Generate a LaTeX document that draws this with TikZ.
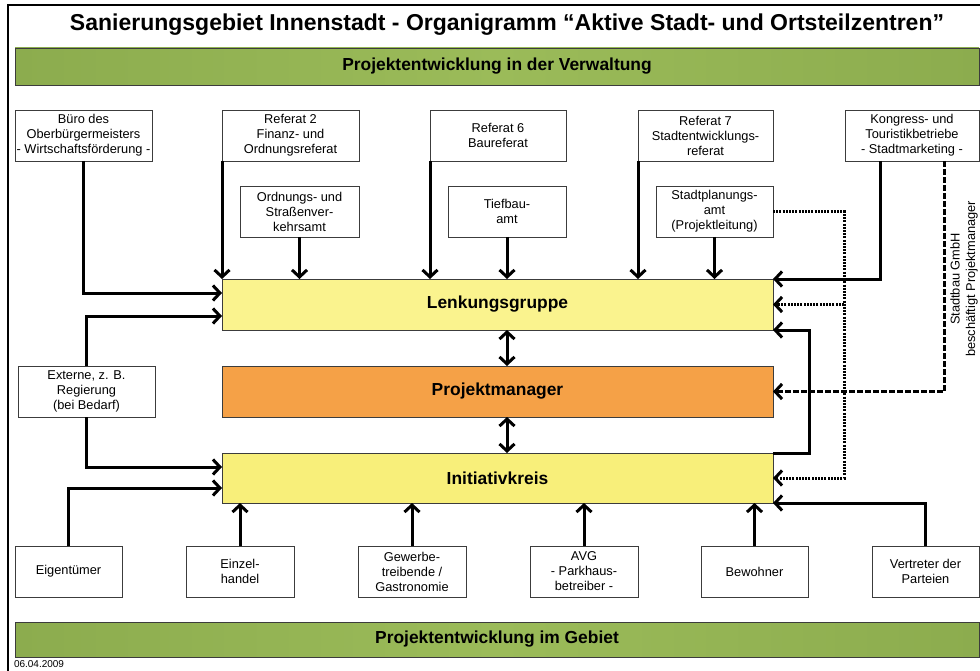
\documentclass[tikz,border=0pt]{standalone}
\usepackage{fontspec}
\setmainfont{Liberation Sans}
\usetikzlibrary{arrows.meta,calc}
\definecolor{barGreen}{RGB}{155,187,89}
\definecolor{barGreenD}{RGB}{140,172,78}
\definecolor{lenkYellow}{RGB}{250,243,142}
\definecolor{initYellow}{RGB}{248,239,122}
\definecolor{pmOrange}{RGB}{245,161,71}
\definecolor{edgeGray}{RGB}{60,60,60}
\begin{document}
\begin{tikzpicture}[x=1pt,y=-1pt,
  every node/.style={outer sep=0pt},
  box/.style={draw=edgeGray, line width=0.9pt, fill=white, align=center, inner sep=1pt,
    font=\fontsize{12.8}{15}\selectfont, minimum height=51pt},
  band/.style={draw=edgeGray, line width=0.9pt, minimum width=551pt, minimum height=51pt,
    font=\bfseries\fontsize{17.4}{19}\selectfont},
  greenbar/.style={draw=edgeGray, line width=0.9pt, left color=barGreenD, right color=barGreenD, middle color=barGreen,
    minimum width=964pt, font=\bfseries\fontsize{17.4}{19}\selectfont},
  conn/.style={line width=3pt, -{Straight Barb[length=7pt,width=15pt]}},
  dconn/.style={line width=3pt, {Straight Barb[length=7pt,width=15pt]}-{Straight Barb[length=7pt,width=15pt]}},
  dashconn/.style={line width=3pt, dash pattern=on 6pt off 2pt, -{Straight Barb[length=7pt,width=15pt]}},
  dotconn/.style={line width=3pt, dash pattern=on 2pt off 1.2pt, -{Straight Barb[length=7pt,width=15pt]}}
]
\useasboundingbox (0,0) rectangle (980,671);
\fill[white] (0,0) rectangle (980,671);
\draw[line width=1.6pt] (8,671) -- (8,5) -- (980,5);

\node[font=\bfseries\fontsize{23}{26}\selectfont] (title) at (507,25)
  {Sanierungsgebiet Innenstadt - Organigramm “Aktive Stadt- und Ortsteilzentren”};

\node[greenbar, minimum height=37pt] (topbar) at (497,66.5) {Projektentwicklung in der Verwaltung};
\node[greenbar, minimum height=35pt] (botbar) at (497,639.5) {Projektentwicklung im Gebiet};
\node[anchor=west, font=\fontsize{10}{12}\selectfont, inner sep=0pt] (date) at (14,664) {06.04.2009};

% top row
\node[box, minimum width=137pt] (buero) at (83.5,135.5) {Büro des\\Oberbürgermeisters\\- Wirtschaftsförderung -};
\node[box, minimum width=137pt] (ref2) at (290.5,135.5) {Referat 2\\Finanz- und\\Ordnungsreferat};
\node[box, minimum width=136pt] (ref6) at (498,135.5) {Referat 6\\Baureferat};
\node[box, minimum width=135pt] (ref7) at (705.5,135.5) {Referat 7\\Stadtentwicklungs-\\referat};
\node[box, minimum width=134pt] (kongress) at (912,135.5) {Kongress- und\\Touristikbetriebe\\- Stadtmarketing -};

% second row
\node[box, minimum width=119pt] (ordnung) at (299.5,211.5) {Ordnungs- und\\Straßenver-\\kehrsamt};
\node[box, minimum width=118pt] (tiefbau) at (507,211.5) {Tiefbau-\\amt};
\node[box, minimum width=117pt] (stadtpl) at (714.5,211.5) {Stadtplanungs-\\amt\\(Projektleitung)};

% central bands
\node[band, fill=lenkYellow] (lenk) at (497.5,304.5) {Lenkungsgruppe};
\node[band, fill=pmOrange] (pm) at (497.5,391.5) {Projektmanager};
\node[band, fill=initYellow, minimum height=50pt] (init) at (497.5,478) {Initiativkreis};

\node[box, minimum width=137pt] (externe) at (86.5,391.5) {Externe, z. B.\\Regierung\\(bei Bedarf)};

% bottom row
\node[box, minimum width=107pt] (eig) at (68.5,571.5) {Eigentümer};
\node[box, minimum width=108pt] (einz) at (240,571.5) {Einzel-\\handel};
\node[box, minimum width=108pt] (gew) at (412,571.5) {Gewerbe-\\treibende /\\Gastronomie};
\node[box, minimum width=108pt] (avg) at (584,571.5) {AVG\\- Parkhaus-\\betreiber -};
\node[box, minimum width=107pt] (bew) at (754.5,571.5) {Bewohner};
\node[box, minimum width=107pt] (vert) at (925.5,571.5) {Vertreter der\\Parteien};

\node[rotate=90, align=center, font=\fontsize{12.8}{15.5}\selectfont] (sgmbh) at (964,279)
  {Stadtbau GmbH\\beschäftigt Projektmanager};

% helper coordinates
\coordinate (dotx) at (844,0);
\coordinate (rx) at (809,0);
\coordinate (dx) at (507,0);

% connectors into Lenkungsgruppe
\draw[conn] (buero.south) |- ([yshift=11.5pt]lenk.west);
\draw[conn] (externe.north) |- ([yshift=-11.5pt]lenk.west);
\draw[conn] (ref2.south west) -- (ref2.south west |- lenk.north);
\draw[conn] (ordnung.south) -- (ordnung.south |- lenk.north);
\draw[conn] (ref6.south west) -- (ref6.south west |- lenk.north);
\draw[conn] (tiefbau.south) -- (tiefbau.south |- lenk.north);
\draw[conn] (ref7.south west) -- (ref7.south west |- lenk.north);
\draw[conn] (stadtpl.south) -- (stadtpl.south |- lenk.north);
\draw[conn] ([xshift=-32pt]kongress.south) |- (lenk.north east);
\draw[dashconn] ([xshift=32pt]kongress.south) |- (pm.east);
\draw[dotconn] (stadtpl.east) -| (dotx |- init.east) -- (init.east);
\draw[dotconn] (dotx |- lenk.east) -- (lenk.east);
\draw[conn] (init.north east) -- (rx |- init.north east) -- (rx |- lenk.south east) -- (lenk.south east);

% between bands
\draw[dconn] (dx |- lenk.south) -- (dx |- pm.north);
\draw[dconn] (dx |- pm.south) -- (dx |- init.north);

% into Initiativkreis
\draw[conn] (externe.south) |- ([yshift=11pt]init.west);
\draw[conn] (eig.north) |- ([yshift=-10pt]init.west);
\foreach \n in {einz,gew,avg,bew}
  \draw[conn] (\n.north) -- (\n.north |- init.south);
\draw[conn] (vert.north) |- (init.south east);
\end{tikzpicture}
\end{document}
